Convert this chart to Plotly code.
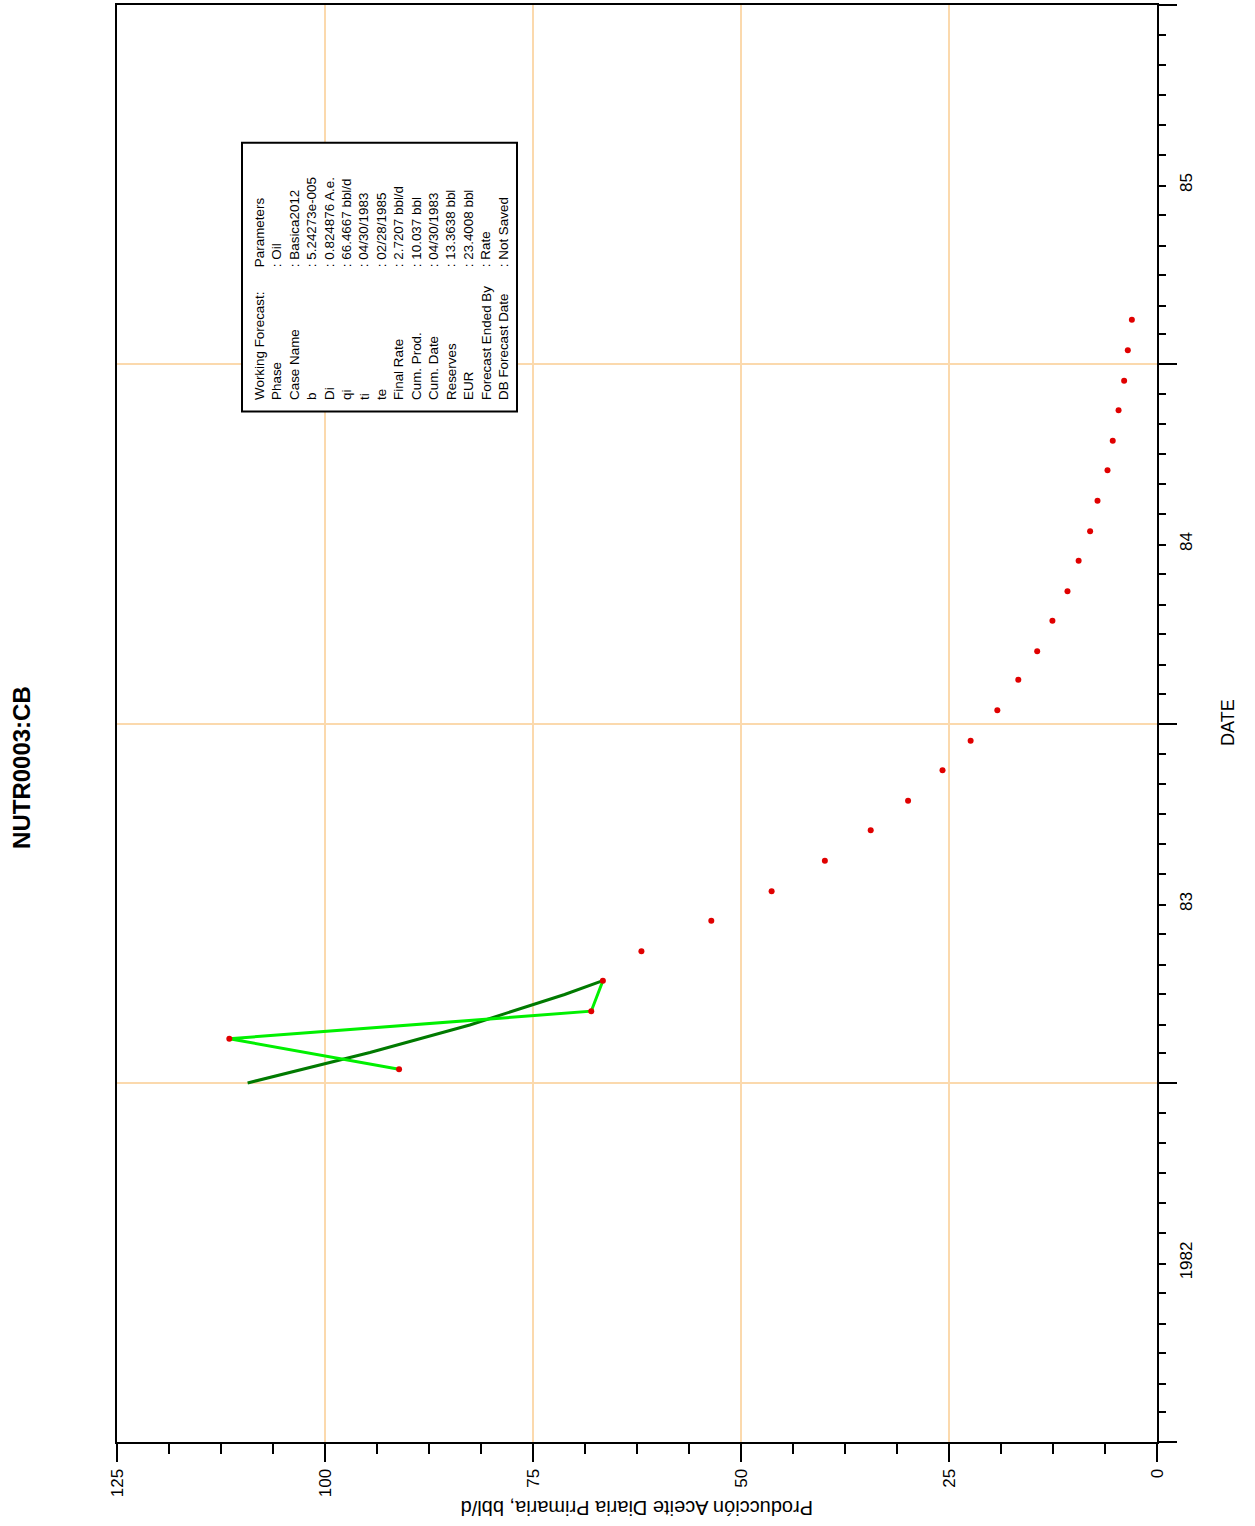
import plotly.graph_objects as go

# ---------------- data ----------------
actual_dates = ["1983-01-15", "1983-02-15", "1983-03-15", "1983-04-15"]
actual_rate = [91.1, 111.5, 68.0, 66.6]

fit_dates = ["1983-01-01", "1983-02-01", "1983-03-01", "1983-04-01", "1983-04-15"]
fit_rate = [109.3, 94.6, 82.6, 71.2, 66.6]

forecast_dates = ["1983-05-15", "1983-06-15", "1983-07-15", "1983-08-15", "1983-09-15",
                  "1983-10-15", "1983-11-15", "1983-12-15", "1984-01-15", "1984-02-15",
                  "1984-03-15", "1984-04-15", "1984-05-15", "1984-06-15", "1984-07-15",
                  "1984-08-15", "1984-09-15", "1984-10-15", "1984-11-15", "1984-12-15",
                  "1985-01-15", "1985-02-15"]
forecast_rate = [61.97, 53.57, 46.32, 39.92, 34.41, 29.92, 25.78, 22.40, 19.19, 16.67,
                 14.40, 12.57, 10.76, 9.42, 8.04, 7.15, 5.95, 5.32, 4.62, 3.95, 3.51, 3.02]

rate_ticks = [125, 100, 75, 50, 25, 0]
year_label_dates = ["1982-07-02", "1983-07-02", "1984-07-02", "1985-07-02"]
year_labels = ["1982", "83", "84", "85"]

param_labels = ["Working Forecast:", "Phase", "Case Name", "b", "Di", "qi", "ti", "te",
                "Final Rate", "Cum. Prod.", "Cum. Date", "Reserves", "EUR",
                "Forecast Ended By", "DB Forecast Date"]
param_values = ["Parameters", ": Oil", ": Basica2012", ": 5.24273e-005", ": 0.824876 A.e.",
                ": 66.4667 bbl/d", ": 04/30/1983", ": 02/28/1985", ": 2.7207 bbl/d",
                ": 10.037 bbl", ": 04/30/1983", ": 13.3638 bbl", ": 23.4008 bbl",
                ": Rate", ": Not Saved"]

title_text = "NUTR0003:CB"
x_title = "Producción Aceite Diaria Primaria, bbl/d"
y_title = "DATE"

# ---------------- figure ----------------
W, H = 1255, 1526
L, R, T, B = 117, 98, 3, 84
PW, PH = W - L - R, H - T - B

def px(xp):
    return (xp - L) / PW

def py(yp):
    return (H - B - yp) / PH

FONT = "Liberation Sans, Arial, sans-serif"
GRID = "#fbd9ad"

fig = go.Figure()

fig.add_trace(go.Scatter(
    x=fit_rate, y=fit_dates, mode="lines",
    line=dict(color="#007a00", width=3), showlegend=False, hoverinfo="skip"))

fig.add_trace(go.Scatter(
    x=actual_rate, y=actual_dates, mode="lines+markers",
    line=dict(color="#00f000", width=3),
    marker=dict(color="#e00000", size=6, symbol="circle"),
    showlegend=False))

fig.add_trace(go.Scatter(
    x=forecast_rate, y=forecast_dates, mode="markers",
    marker=dict(color="#e00000", size=6, symbol="circle"),
    showlegend=False))

# invisible trace to bind the label axis
fig.add_trace(go.Scatter(x=[None], y=[None], yaxis="y2", mode="markers",
                         showlegend=False, hoverinfo="skip"))

fig.update_layout(
    width=W, height=H,
    margin=dict(l=L, r=R, t=T, b=B),
    paper_bgcolor="white", plot_bgcolor="white",
    font=dict(family=FONT, color="black", size=17),
    showlegend=False,
    xaxis=dict(
        range=[125, 0], tickmode="array", tickvals=rate_ticks,
        ticktext=[str(v) for v in rate_ticks], tickangle=-90,
        ticks="outside", ticklen=18, tickwidth=2, tickcolor="black",
        showline=True, linecolor="black", linewidth=2, mirror=True,
        showgrid=True, gridcolor=GRID, gridwidth=2, zeroline=False,
        tickfont=dict(size=17),
        minor=dict(tickmode="linear", tick0=0, dtick=6.25, ticks="outside",
                   ticklen=10, tickwidth=2, tickcolor="black", showgrid=False),
    ),
    yaxis=dict(
        type="date", range=["1982-01-01", "1986-01-01"], side="right",
        tickmode="linear", tick0="1982-01-01", dtick="M12",
        ticks="outside", ticklen=18, tickwidth=2, tickcolor="black",
        showticklabels=False,
        showline=True, linecolor="black", linewidth=2, mirror=True,
        showgrid=True, gridcolor=GRID, gridwidth=2, zeroline=False,
        minor=dict(tickmode="linear", tick0="1982-01-01", dtick="M1", ticks="outside",
                   ticklen=7, tickwidth=2, tickcolor="black", showgrid=False),
    ),
    yaxis2=dict(
        type="date", overlaying="y", side="right", anchor="x",
        range=["1982-01-01", "1986-01-01"],
        tickmode="array", tickvals=year_label_dates, ticktext=year_labels,
        ticks="outside", ticklen=14, tickcolor="rgba(0,0,0,0)", tickangle=-90,
        showgrid=False, showline=False, zeroline=False,
        tickfont=dict(size=17),
    ),
)

# parameters box
fig.add_shape(type="rect", xref="paper", yref="paper",
              x0=px(242), x1=px(517), y0=py(410), y1=py(141),
              line=dict(color="black", width=2), fillcolor="white", layer="above")

fig.add_annotation(xref="paper", yref="paper", x=px(250), y=py(401),
                   xanchor="left", yanchor="bottom", showarrow=False,
                   textangle=-90, align="left",
                   text="<br>".join(param_labels),
                   font=dict(family=FONT, size=13.4, color="black"))
fig.add_annotation(xref="paper", yref="paper", x=px(250), y=py(268),
                   xanchor="left", yanchor="bottom", showarrow=False,
                   textangle=-90, align="left",
                   text="<br>".join(param_values),
                   font=dict(family=FONT, size=13.4, color="black"))

# title and axis titles
fig.add_annotation(xref="paper", yref="paper", x=px(22), y=py(767),
                   xanchor="center", yanchor="middle", showarrow=False,
                   textangle=-90, text="<b>" + title_text + "</b>",
                   font=dict(family=FONT, size=24, color="black"))
fig.add_annotation(xref="paper", yref="paper", x=px(1228), y=py(722),
                   xanchor="center", yanchor="middle", showarrow=False,
                   textangle=-90, text=y_title,
                   font=dict(family=FONT, size=18, color="black"))
fig.add_annotation(xref="paper", yref="paper", x=px(637), y=py(1508),
                   xanchor="center", yanchor="middle", showarrow=False,
                   textangle=180, text=x_title,
                   font=dict(family=FONT, size=20, color="black"))

fig.write_html("out.html",
               config={"displayModeBar": False},
               post_script="document.body.style.margin='0';document.body.style.padding='0';")
